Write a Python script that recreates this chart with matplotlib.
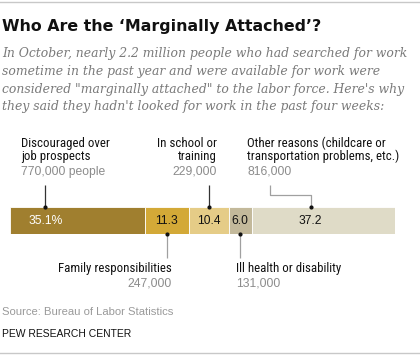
import matplotlib
matplotlib.use("Agg")
import matplotlib.pyplot as plt
import numpy as np

# data
reasons = ["Discouraged over\njob prospects",
           "Family responsibilities",
           "In school or\ntraining",
           "Ill health or disability",
           "Other reasons (childcare or\ntransportation problems, etc.)"]
shares = [35.1, 11.3, 10.4, 6.0, 37.2]
share_labels = ["35.1%", "11.3", "10.4", "6.0", "37.2"]
counts = ["770,000 people", "247,000", "229,000", "131,000", "816,000"]
colors = ["#a07f2f", "#d3a937", "#e5cc87", "#c3b99b", "#dfdbc7"]

title = "Who Are the \u2018Marginally Attached\u2019?"
subtitle = ["In October, nearly 2.2 million people who had searched for work",
            "sometime in the past year and were available for work were",
            "considered \"marginally attached\" to the labor force. Here's why",
            "they said they hadn't looked for work in the past four weeks:"]
source = "Source: Bureau of Labor Statistics"
credit = "PEW RESEARCH CENTER"

NARROW = ["Liberation Sans Narrow", "Roboto Condensed", "Liberation Sans", "DejaVu Sans"]
SANS = ["Liberation Sans", "DejaVu Sans"]
GRAY = "#8c8c8c"

W, H = 420, 360
fig = plt.figure(figsize=(W / 100, H / 100), dpi=100)
fig.patch.set_facecolor("white")
renderer = fig.canvas.get_renderer()


def fit(texts, ref, target):
    """scale a group of texts so that `ref` is `target` pixels wide"""
    w = ref.get_window_extent(renderer).width
    size = ref.get_fontsize() * target / w
    for t in texts:
        t.set_fontsize(size)


# pixel overlay for the headline text
bg = fig.add_axes([0, 0, 1, 1])
bg.set_xlim(0, W)
bg.set_ylim(H, 0)
bg.axis("off")

bg.plot([0, W], [1.5, 1.5], color="#c8c8c8", lw=1)
bg.plot([0, W], [353, 353], color="#c8c8c8", lw=1)

t = bg.text(2, 30.7, title, fontsize=10, fontweight="bold", family="DejaVu Sans",
            color="#111111", va="baseline")
fit([t], t, 318)
subs = [bg.text(2, 57.3 + i * 17.6, line, fontsize=9, style="italic", family="DejaVu Serif",
                color="#7a7a7a", va="baseline") for i, line in enumerate(subtitle)]
fit(subs, subs[0], 405)
t = bg.text(1.7, 315, source, fontsize=7.5, family=SANS, color="#9a9a9a", va="baseline")
fit([t], t, 170)
t = bg.text(1.7, 337, credit, fontsize=8, family=SANS, color="#111111", va="baseline")
fit([t], t, 130)

# the stacked bar, y in pixel units (top -> bottom)
bar_top, bar_bot = 207, 234
ax = fig.add_axes([10 / W, 1 - bar_bot / H, 385 / W, (bar_bot - bar_top) / H])
ax.set_xlim(0, 100)
ax.set_ylim(bar_bot, bar_top)
ax.axis("off")

lefts = np.concatenate([[0], np.cumsum(shares)[:-1]])
yc = (bar_top + bar_bot) / 2
ax.barh(yc, shares, left=lefts, height=bar_bot - bar_top, color=colors,
        edgecolor="white", linewidth=0.6)

# where leaders touch the bar (fraction across each segment)
lead_frac = [0.26, 0.5, 0.5, 0.5, 0.41]
lead_x = lefts + np.array(shares) * np.array(lead_frac)

vals = [ax.text(lead_x[i], yc + 0.5, lab, ha="center", va="center", fontsize=9, family=SANS,
                color="white" if i == 0 else "#111111")
        for i, lab in enumerate(share_labels)]
fit(vals, vals[0], 34)


def px(x):
    return (x - 10) / 3.85


names, nums = [], []


def label(x, y, text, count, ha):
    lines = text.split("\n")
    for j, line in enumerate(lines):
        names.append(ax.text(x, y + j * 12.7, line, ha=ha, va="baseline", fontsize=9,
                             family=NARROW, color="#111111", clip_on=False))
    nums.append(ax.text(x, y + (len(lines) - 1) * 12.7 + 15, count, ha=ha, va="baseline",
                        fontsize=8.6, family=SANS, color=GRAY, clip_on=False))


# top labels
label(px(20.7), 147.3, reasons[0], counts[0], "left")
label(px(217), 147.3, reasons[2], counts[2], "right")
label(px(247), 147.3, reasons[4], counts[4], "left")
# bottom labels
label(px(172), 271.7, reasons[1], counts[1], "right")
label(px(236), 271.7, reasons[3], counts[3], "left")
fit(names, names[0], 89)
fit(nums, nums[0], 83)

dark, light = "#333333", "#a0a0a0"
kw = dict(clip_on=False, lw=0.9, solid_capstyle="butt")
ax.plot([lead_x[0]] * 2, [185, bar_top], color=dark, **kw)
ax.plot([lead_x[2]] * 2, [185, bar_top], color=dark, **kw)
ax.plot([px(270), px(270), lead_x[4], lead_x[4]], [185, 195, 195, bar_top], color=light, **kw)
ax.plot([lead_x[1]] * 2, [bar_bot, 258], color=light, **kw)
ax.plot([lead_x[3]] * 2, [bar_bot, 258], color=light, **kw)
for i in [0, 2, 4]:
    ax.plot(lead_x[i], bar_top + 0.5, "o", ms=2, color="#111111", clip_on=False)
for i in [1, 3]:
    ax.plot(lead_x[i], bar_bot - 0.5, "o", ms=2, color="#111111", clip_on=False)

fig.savefig("out.png", dpi=100, facecolor="white")
